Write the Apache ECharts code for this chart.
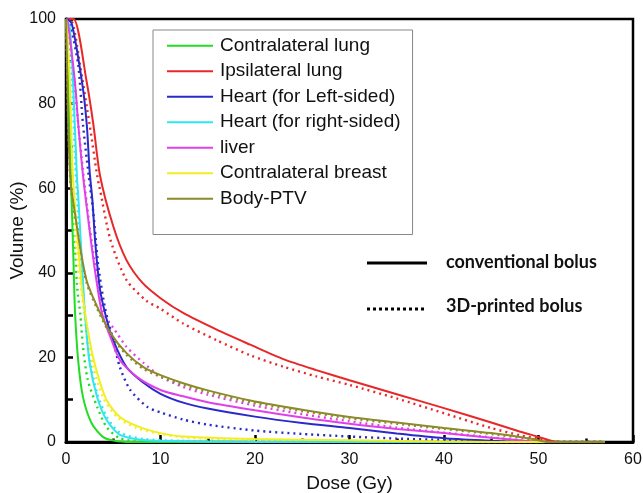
<!DOCTYPE html>
<html>
<head>
<meta charset="utf-8">
<script src="https://cdn.jsdelivr.net/npm/echarts@6/dist/echarts.min.js"></script>
<style>html,body{margin:0;padding:0;background:#fff}#c{width:643px;height:493px}</style>
</head>
<body>
<div id="c"></div>
<script>
// ---- data: [dose (Gy), volume (%)] ----
var contraLungConv = [[0,100],[0.1,96],[0.25,85],[0.4,72],[0.55,60],[0.75,46],[0.95,31],[1.3,19],[1.8,10.6],[2.7,4.5],[3.9,1.2],[5.4,0.2],[8,0],[57,0]];
var contraLung3D   = [[0,100],[0.15,95],[0.3,85],[0.5,72],[0.7,60],[0.95,46],[1.2,36],[1.5,30.5],[1.8,22.5],[2.3,14.7],[3.3,8.3],[4.3,3.5],[5.7,0.9],[8,0.1],[57,0]];
var ipsiLungConv   = [[0,100],[0.8,100],[2.2,85],[2.9,75],[3.6,63],[5,51],[6.4,43],[8.1,37.6],[10,34],[12.4,30.5],[16,26.5],[19.5,23],[23,19.6],[26.5,17],[30,14.6],[35,11.3],[40,8],[45,4.6],[48,2.5],[50,1.2],[51.5,0.2],[52.5,0],[57,0]];
var ipsiLung3D     = [[0,100],[0.7,99],[1.5,89],[2.5,75],[3.3,63],[3.6,59.6],[4.7,47.8],[6.4,38.3],[8.5,33.4],[10,31.5],[12.4,28],[16,24],[19.5,20.5],[23,17.8],[26.5,15.5],[30,13.5],[35,10.3],[40,6.8],[45,3.3],[48,1.6],[50,0.8],[51.5,0.1],[52.5,0],[57,0]];
var heartLConv     = [[0,100],[0.6,99],[1.7,85],[2.2,75],[2.5,64],[2.8,57],[3.1,47],[3.6,36],[4.3,29],[5,24],[6.4,17.7],[8.2,14],[10,11.4],[12.4,9.3],[15,7.9],[20,6],[25,4.5],[30,3.3],[35,2],[40,0.9],[45,0.3],[48,0],[57,0]];
var heartL3D       = [[0,100],[0.5,98],[1.3,89],[1.8,75],[2.4,63],[2.9,54],[3.4,42],[4.1,32],[5,24],[5.7,17.7],[6.8,12.3],[8.6,8.3],[10,7],[12.4,5.3],[15,4.1],[20,2.7],[25,1.9],[30,1.3],[35,0.8],[40,0.5],[45,0.1],[48,0],[57,0]];
var heartRConv     = [[0,100],[0.4,98],[0.75,85],[1.15,63],[1.3,58],[1.7,42],[2,30.5],[2.5,18.7],[3.3,10.6],[4.3,5.2],[5.7,1.7],[8.2,0.5],[12,0.2],[20,0],[57,0]];
var heartR3D       = [[0,100],[0.3,97],[0.65,85],[1.0,65],[1.25,55],[1.6,42],[1.95,31],[2.5,19.5],[3.3,11.5],[4.3,6],[5.7,2.2],[8.2,0.7],[12,0.3],[20,0],[57,0]];
var liverConv      = [[0,100],[0.2,99],[0.95,85],[1.3,75],[1.8,63],[2.5,50],[3.1,40],[3.8,30.5],[4.7,24.8],[5.7,19.4],[7.5,15.4],[10,12.3],[12.4,10.8],[15,9.4],[20,7.5],[25,5.8],[30,4.3],[35,3.1],[40,2.1],[45,1],[48,0.4],[50,0],[57,0]];
var liver3D        = [[0,100],[0.2,99],[0.9,85],[1.3,75],[1.85,63],[2.55,50],[3.2,40],[3.9,31],[4.5,28.5],[5,27],[6.4,22.5],[8.2,18.7],[10,15.5],[12.4,13],[15,11.2],[20,8.6],[25,6.6],[30,4.9],[35,3.4],[40,2.2],[45,1.1],[48,0.4],[50,0],[57,0]];
var breastConv     = [[0,100],[0.15,96],[0.4,85],[0.6,70],[0.75,62],[1.3,46],[1.8,34],[2.5,24],[3.3,16.3],[4.3,9.9],[5.7,5.9],[7.8,3.5],[10,2.1],[12.4,1.3],[20,0.7],[30,0.4],[40,0.1],[45,0],[57,0]];
var breast3D       = [[0,100],[0.12,95],[0.35,85],[0.55,70],[0.7,60],[1.1,46],[1.5,38],[2.2,26.5],[2.9,17.7],[3.9,10.6],[5.4,5.9],[7.5,3.3],[10,1.9],[13,1.0],[20,0.5],[30,0.3],[40,0.1],[45,0],[57,0]];
var bodyConv       = [[0,100],[0.1,90],[0.2,78],[0.3,70],[0.5,61],[0.95,54],[1.5,46],[2.2,38],[3.3,32],[4.7,25.8],[6.4,21],[8.2,17.7],[10,15.8],[12.4,13.9],[15,12.2],[19.5,9.8],[25,7.6],[30,5.9],[35,4.6],[40,3.3],[45,2.1],[49.4,0.7],[51,0],[57,0]];
var body3D         = [[0,100],[0.1,90],[0.2,78],[0.3,70],[0.5,60.5],[0.95,53.5],[1.5,45.5],[2.2,37.5],[3.3,31.5],[4.7,25.4],[6.4,20.6],[8.2,17.3],[10,15.4],[12.4,13.5],[15,11.8],[19.5,9.4],[25,7.3],[30,5.6],[35,4.3],[40,3.1],[45,1.9],[49.4,0.6],[51,0],[57,0]];

var organNames = ['Contralateral lung','Ipsilateral lung','Heart (for Left-sided)','Heart (for right-sided)','liver','Contralateral breast','Body-PTV'];
var organColors = ['#22dd22','#e82828','#2a2ac8','#30e6f0','#e040e8','#f2ee22','#8c8a2a'];
var convData = [contraLungConv, ipsiLungConv, heartLConv, heartRConv, liverConv, breastConv, bodyConv];
var printedData = [contraLung3D, ipsiLung3D, heartL3D, heartR3D, liver3D, breast3D, body3D];
var xTicks = {min:0, max:60, interval:10};
var yTicks = {min:0, max:100, interval:20};

var series = [];
organNames.forEach(function(n, i){
  series.push({
    name: n, type: 'line', data: convData[i], symbol: 'none', showSymbol: false,
    smooth: 0.25,
    lineStyle: {color: organColors[i], width: 2}, itemStyle: {color: organColors[i]}, z: 3
  });
});
organNames.forEach(function(n, i){
  series.push({
    name: n + ' (3D)', type: 'line', data: printedData[i], symbol: 'none', showSymbol: false,
    smooth: 0.25,
    lineStyle: {color: organColors[i], width: 2.4, type: [2, 4]}, itemStyle: {color: organColors[i]}, z: 2
  });
});

var chart = echarts.init(document.getElementById('c'), null, {renderer: 'canvas'});
chart.setOption({
  animation: false,
  backgroundColor: '#fff',
  grid: {left: 66, right: 10, top: 19, bottom: 51, outerBoundsMode: 'none', containLabel: false,
         show: true, borderColor: '#000', borderWidth: 2.5, backgroundColor: 'transparent'},
  xAxis: {
    type: 'value', min: xTicks.min, max: xTicks.max, interval: xTicks.interval,
    name: 'Dose (Gy)', nameLocation: 'middle', nameGap: 32, nameMoveOverlap: false,
    nameTextStyle: {fontFamily: 'Liberation Sans', fontSize: 19, color: '#111'},
    axisLine: {show: true, onZero: false, lineStyle: {color: '#000', width: 3}},
    axisTick: {show: true, inside: true, length: 7, lineStyle: {color: '#000', width: 2.5}},
    minorTick: {show: true, splitNumber: 2, length: 3.5, lineStyle: {color: '#000', width: 2.5}},
    axisLabel: {fontFamily: 'Liberation Sans', fontSize: 16, color: '#111', margin: 10},
    splitLine: {show: false}
  },
  yAxis: {
    type: 'value', min: yTicks.min, max: yTicks.max, interval: yTicks.interval,
    name: 'Volume (%)', nameLocation: 'middle', nameGap: 39, nameRotate: 90, nameMoveOverlap: false,
    nameTextStyle: {fontFamily: 'Liberation Sans', fontSize: 19, color: '#111'},
    axisLine: {show: true, onZero: false, lineStyle: {color: '#000', width: 3}},
    axisTick: {show: true, inside: true, length: 7, lineStyle: {color: '#000', width: 2.5}},
    minorTick: {show: true, splitNumber: 2, length: 7, lineStyle: {color: '#000', width: 2.5}},
    axisLabel: {fontFamily: 'Liberation Sans', fontSize: 16, color: '#111', margin: 10},
    splitLine: {show: false}
  },
  legend: {
    data: organNames, orient: 'vertical', left: 153, top: 30,
    padding: [6, 12, 26, 14], itemGap: 6, itemWidth: 46, itemHeight: 2, icon: 'rect',
    borderColor: '#888', borderWidth: 1, backgroundColor: '#fff',
    textStyle: {fontFamily: 'Liberation Sans', fontSize: 19, color: '#111', lineHeight: 19.5, padding: [0,0,0,2]},
    selectedMode: false
  },
  graphic: [
    {type: 'line', shape: {x1: 367, y1: 263, x2: 427, y2: 263}, style: {stroke: '#000', lineWidth: 3}},
    {type: 'line', shape: {x1: 367, y1: 309, x2: 427, y2: 309}, style: {stroke: '#000', lineWidth: 3, lineDash: [3, 3]}},
    {type: 'text', x: 446, y: 262, style: {text: 'conventional bolus', fontFamily: 'Lato', fontWeight: 'bold', fontSize: 18, fill: '#111', textVerticalAlign: 'middle'}},
    {type: 'text', x: 446, y: 306, style: {text: '3D-printed bolus', fontFamily: 'Lato', fontWeight: 'bold', fontSize: 18, fill: '#111', textVerticalAlign: 'middle'}}
  ],
  series: series
});
</script>
</body>
</html>
